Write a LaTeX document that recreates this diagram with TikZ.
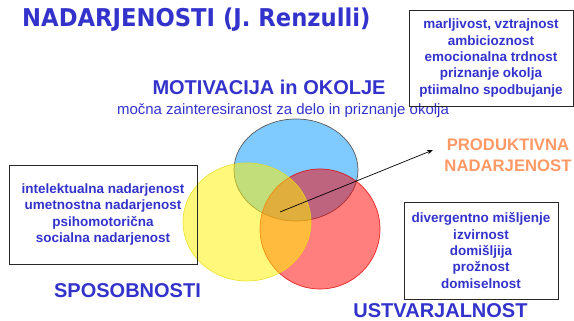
\documentclass[tikz,border=0pt]{standalone}
\usepackage{fontspec}
\setmainfont{Liberation Sans}
\newfontfamily\titlefont{DejaVu Sans}
\usetikzlibrary{arrows.meta}
\definecolor{txtblue}{RGB}{51,51,204}
\definecolor{prodorange}{RGB}{255,153,102}
\definecolor{cblue}{RGB}{0,149,255}
\definecolor{boxline}{RGB}{40,40,40}
\tikzset{
  infobox/.style={draw=boxline, line width=0.9pt, align=center, inner sep=0pt,
    text=txtblue, font=\bfseries\fontsize{13.5}{16.4}\selectfont},
  bigbold/.style={text=txtblue, font=\bfseries\fontsize{20}{24}\selectfont, inner sep=0pt, anchor=base},
}
\begin{document}
\begin{tikzpicture}[x=1pt,y=-1pt]
\useasboundingbox (0,0) rectangle (574,321);
% circles
\fill[cblue, opacity=0.5] (296,170) ellipse [x radius=62, y radius=51];
\draw[black!65, line width=0.7pt] (296,170) ellipse [x radius=62, y radius=51];
\fill[red, opacity=0.5] (320,229) ellipse [x radius=60, y radius=60];
\draw[red!90!black, line width=0.7pt, opacity=0.8] (320,229) ellipse [x radius=60, y radius=60];
\fill[yellow, opacity=0.52] (247,222) ellipse [x radius=64, y radius=59];
\draw[yellow!90!black, line width=0.7pt, opacity=0.8] (247,222) ellipse [x radius=64, y radius=59];
% title
\node[anchor=base west, inner sep=0pt, text=txtblue, font=\titlefont\bfseries\fontsize{22.7}{26}\selectfont] (title) at (22,27) {\scalebox{1}[1.08]{NADARJENOSTI (J. Renzulli)}};
% labels
\node[bigbold] (motiv) at (269,95) {MOTIVACIJA in OKOLJE};
\node[anchor=base, inner sep=0pt, text=txtblue, font=\fontsize{15}{18}\selectfont] (motivsub) at (283,115) {močna zainteresiranost za delo in priznanje okolja};
\node[bigbold] (spos) at (127.5,297) {SPOSOBNOSTI};
\node[bigbold] (ustv) at (440.5,317) {USTVARJALNOST};
\node[align=center, inner sep=0pt, text=prodorange, font=\bfseries\fontsize{16.7}{21}\selectfont] (prod) at (508,155.5) {PRODUKTIVNA\\NADARJENOST};
% boxes
\node[infobox, minimum width=164, minimum height=96] (boxmot) at (491,58)
  {marljivost, vztrajnost\\ambicioznost\\emocionalna trdnost\\priznanje okolja\\ptiimalno spodbujanje};
\node[infobox, minimum width=188, minimum height=99] (boxspos) at (103,214.5)
  {intelektualna nadarjenost\\umetnostna nadarjenost\\psihomotorična\\socialna nadarjenost};
\node[infobox, minimum width=154, minimum height=97] (boxustv) at (481,250.5)
  {divergentno mišljenje\\izvirnost\\domišljija\\prožnost\\domiselnost};
% arrow
\coordinate (center) at (280,212);
\coordinate (tip) at (433,150);
\draw[black, line width=0.7pt, -{Stealth[length=6pt,width=4.5pt]}] (center) -- (tip);
\end{tikzpicture}
\end{document}
